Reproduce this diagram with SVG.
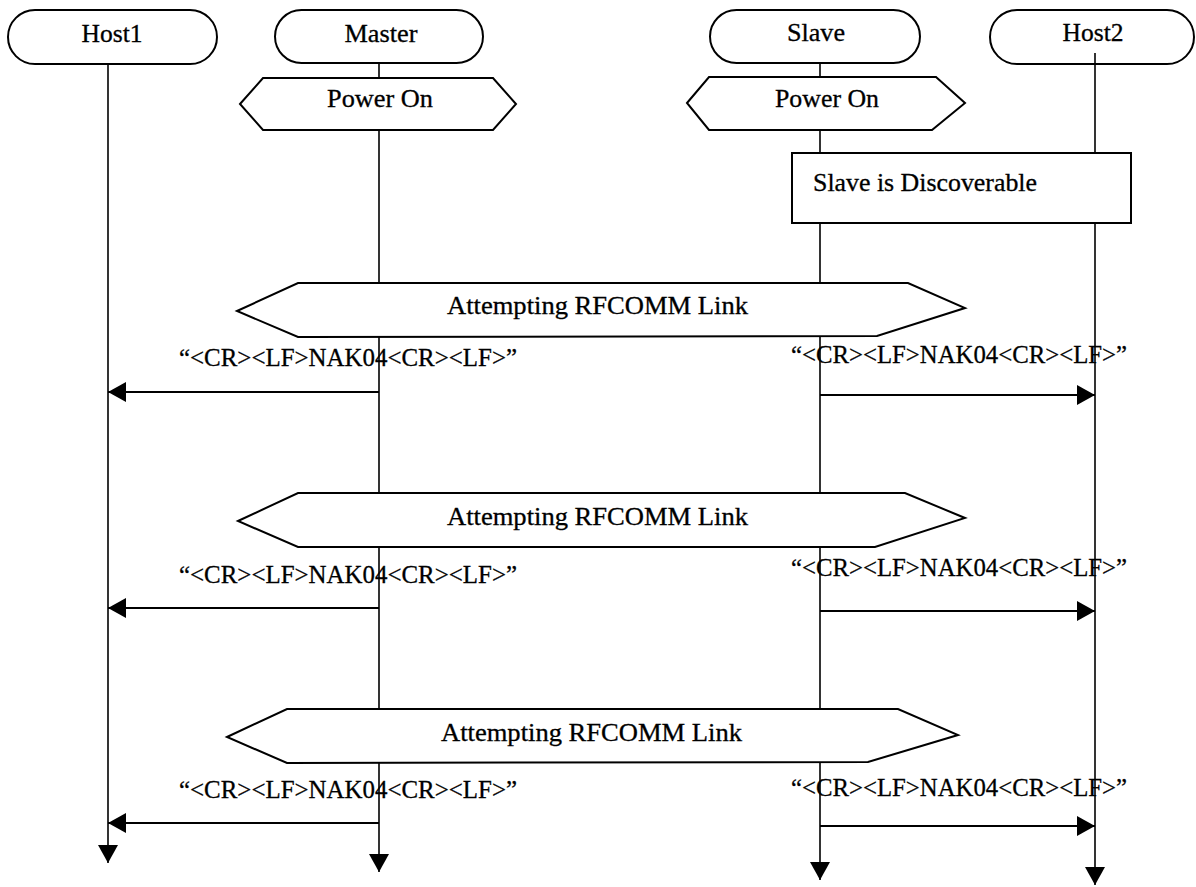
<svg xmlns="http://www.w3.org/2000/svg" width="1196" height="887" viewBox="0 0 1196 887">
  <style>
    .shape { fill: #ffffff; stroke: #000000; stroke-width: 2; }
    .life { stroke: #000000; stroke-width: 1.6; fill: none; }
    .msg { stroke: #000000; stroke-width: 1.8; fill: none; }
    text { font-family: "Liberation Serif", "Times New Roman", serif; font-size: 25px; fill: #000000; stroke: #000000; stroke-width: 0.3; }
    .c { text-anchor: middle; }
  </style>
  <defs>
    <marker id="ah" viewBox="0 0 18 20" refX="18" refY="10" markerWidth="18" markerHeight="20" orient="auto" markerUnits="userSpaceOnUse">
      <path d="M0,0 L18,10 L0,20 z" fill="#000000"/>
    </marker>
  </defs>
  <rect width="1196" height="887" fill="#ffffff"/>

  <!-- participants -->
  <g id="host1">
    <rect class="shape" x="8" y="10" width="209" height="54" rx="27" ry="27"/>
    <text class="c" x="112" y="42" textLength="61" lengthAdjust="spacingAndGlyphs">Host1</text>
  </g>
  <g id="master">
    <rect class="shape" x="275" y="10" width="208" height="53" rx="26.5" ry="26.5"/>
    <text class="c" x="381" y="42" textLength="73" lengthAdjust="spacingAndGlyphs">Master</text>
  </g>
  <g id="slave">
    <rect class="shape" x="710" y="10" width="210" height="53" rx="26.5" ry="26.5"/>
    <text class="c" x="816" y="41" textLength="58" lengthAdjust="spacingAndGlyphs">Slave</text>
  </g>
  <g id="host2">
    <rect class="shape" x="990" y="10" width="204" height="54" rx="27" ry="27"/>
    <text class="c" x="1093" y="41" textLength="61" lengthAdjust="spacingAndGlyphs">Host2</text>
  </g>

  <!-- lifelines and messages -->
  <g id="connectors">
    <line class="life" x1="108" y1="64" x2="108" y2="863" marker-end="url(#ah)"/>
    <line class="life" x1="379" y1="63" x2="379" y2="872" marker-end="url(#ah)"/>
    <line class="life" x1="820" y1="63" x2="820" y2="880" marker-end="url(#ah)"/>
    <line class="life" x1="1095" y1="53" x2="1095" y2="885" marker-end="url(#ah)"/>

    <line class="msg" x1="379" y1="392" x2="108" y2="392" marker-end="url(#ah)"/>
    <line class="msg" x1="820" y1="395" x2="1095" y2="395" marker-end="url(#ah)"/>
    <line class="msg" x1="379" y1="608" x2="108" y2="608" marker-end="url(#ah)"/>
    <line class="msg" x1="820" y1="611" x2="1095" y2="611" marker-end="url(#ah)"/>
    <line class="msg" x1="379" y1="823" x2="108" y2="823" marker-end="url(#ah)"/>
    <line class="msg" x1="820" y1="826" x2="1095" y2="826" marker-end="url(#ah)"/>
  </g>

  <!-- state markers -->
  <g id="master-power-on">
    <polygon class="shape" points="240,104 263,78 493,78 516,104 493,130 263,130"/>
    <text class="c" x="380" y="107" textLength="106" lengthAdjust="spacingAndGlyphs">Power On</text>
  </g>
  <g id="slave-power-on">
    <polygon class="shape" points="687,103 709,77 936,77 965,103 932,130 709,130"/>
    <text class="c" x="827" y="107" textLength="104" lengthAdjust="spacingAndGlyphs">Power On</text>
  </g>
  <g id="slave-discoverable">
    <rect class="shape" x="792" y="153" width="339" height="70"/>
    <text x="813" y="191" textLength="224" lengthAdjust="spacingAndGlyphs">Slave is Discoverable</text>
  </g>

  <g id="link-attempt-1">
    <polygon class="shape" points="237,311 298,283 908,283 965,308 877,336 298,337"/>
    <text x="447" y="314" textLength="301" lengthAdjust="spacingAndGlyphs">Attempting RFCOMM Link</text>
  </g>
  <g id="link-attempt-2">
    <polygon class="shape" points="238,521 298,493 905,493 965,518 875,547 298,547"/>
    <text x="447" y="525" textLength="301" lengthAdjust="spacingAndGlyphs">Attempting RFCOMM Link</text>
  </g>
  <g id="link-attempt-3">
    <polygon class="shape" points="227,737 287,709 898,709 958,735 868,762 287,763"/>
    <text x="441" y="741" textLength="301" lengthAdjust="spacingAndGlyphs">Attempting RFCOMM Link</text>
  </g>

  <!-- message labels -->
  <g id="labels">
    <text x="179" y="366" textLength="338" lengthAdjust="spacingAndGlyphs">“&lt;CR&gt;&lt;LF&gt;NAK04&lt;CR&gt;&lt;LF&gt;”</text>
    <text x="791" y="363" textLength="336" lengthAdjust="spacingAndGlyphs">“&lt;CR&gt;&lt;LF&gt;NAK04&lt;CR&gt;&lt;LF&gt;”</text>
    <text x="179" y="583" textLength="338" lengthAdjust="spacingAndGlyphs">“&lt;CR&gt;&lt;LF&gt;NAK04&lt;CR&gt;&lt;LF&gt;”</text>
    <text x="791" y="576" textLength="336" lengthAdjust="spacingAndGlyphs">“&lt;CR&gt;&lt;LF&gt;NAK04&lt;CR&gt;&lt;LF&gt;”</text>
    <text x="179" y="798" textLength="338" lengthAdjust="spacingAndGlyphs">“&lt;CR&gt;&lt;LF&gt;NAK04&lt;CR&gt;&lt;LF&gt;”</text>
    <text x="791" y="796" textLength="336" lengthAdjust="spacingAndGlyphs">“&lt;CR&gt;&lt;LF&gt;NAK04&lt;CR&gt;&lt;LF&gt;”</text>
  </g>
</svg>
